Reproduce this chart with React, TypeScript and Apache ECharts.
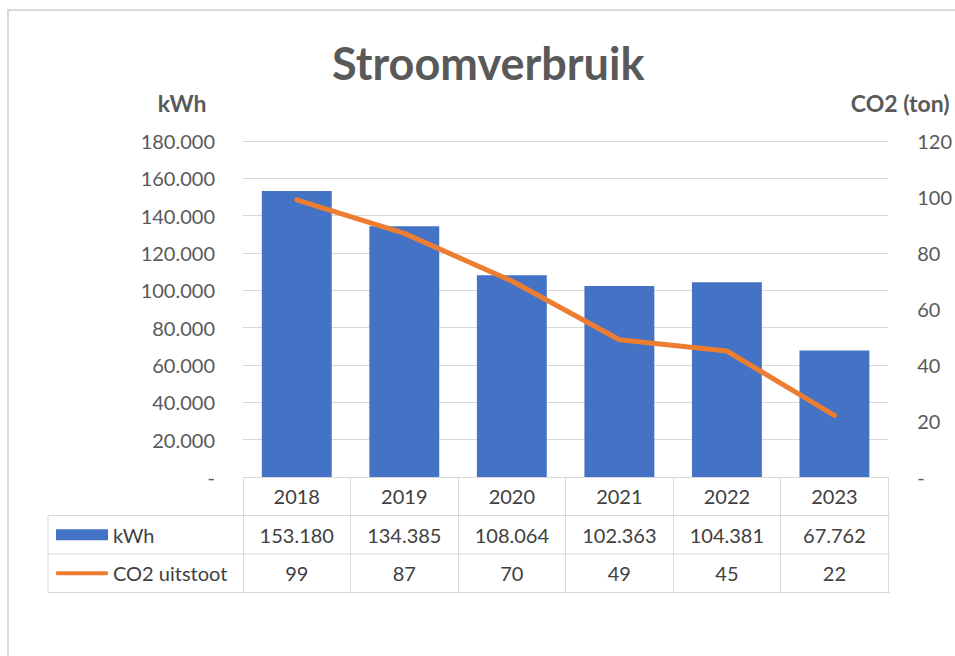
import React, { useEffect, useRef } from "react";
import * as echarts from "echarts";

const years = ["2018", "2019", "2020", "2021", "2022", "2023"];
const kwhValues = [153180, 134385, 108064, 102363, 104381, 67762];
const co2Values = [99, 87, 70, 49, 45, 22];
const seriesNames = ["kWh", "CO2 uitstoot"];

const FONT = "Lato";
const AXIS_COLOR = "#595959";
const TABLE_TEXT = "#404040";
const LINE_COLOR = "#d9d9d9";
const BLUE = "#4472C4";
const ORANGE = "#ED7D31";

const W = 955;
const H = 656;
const gridLeft = 243;
const gridRight = 65;
const gridTop = 141;
const axisY = 477;
const rowH = 38.5;
const tableLeft = 48;

const fmtThousands = (v: number) =>
  v === 0 ? "-" : String(v).replace(/\B(?=(\d{3})+(?!\d))/g, ".");

export default function App() {
  const ref = useRef<HTMLDivElement>(null);
  useEffect(() => {
    if (!ref.current) return;
    const chart = echarts.init(ref.current, undefined, { renderer: "svg" });
    const tableRight = W - gridRight;
    const r1 = axisY + rowH;
    const r2 = axisY + 2 * rowH;
    const r3 = axisY + 3 * rowH;
    const hLine = (y: number) => ({
      type: "line",
      shape: { x1: tableLeft, y1: y, x2: tableRight, y2: y },
      style: { stroke: LINE_COLOR, lineWidth: 1 },
      silent: true,
    });
    chart.setOption({
      animation: false,
      backgroundColor: "#ffffff",
      textStyle: { fontFamily: FONT },
      title: {
        text: "Stroomverbruik",
        left: 332,
        top: 35,
        padding: [5, 0, 5, 0],
        textStyle: { fontFamily: FONT, fontSize: 45, fontWeight: "bold", color: AXIS_COLOR },
      },
      grid: { left: gridLeft, right: gridRight, top: gridTop, bottom: H - axisY, containLabel: false },
      legend: [
        {
          data: [{ name: seriesNames[0], icon: "rect" }],
          left: 56,
          top: r1 + rowH / 2 - 12,
          padding: 0,
          itemWidth: 52,
          itemHeight: 11,
          selectedMode: false,
          textStyle: { fontFamily: FONT, fontSize: 20, color: TABLE_TEXT, lineHeight: 24 },
        },
        {
          data: [{ name: seriesNames[1], icon: "roundRect" }],
          left: 56,
          top: r2 + rowH / 2 - 12,
          padding: 0,
          itemWidth: 52,
          itemHeight: 4,
          selectedMode: false,
          textStyle: { fontFamily: FONT, fontSize: 20, color: TABLE_TEXT, lineHeight: 24 },
        },
      ],
      xAxis: {
        type: "category",
        data: years,
        boundaryGap: true,
        axisLine: { show: true, lineStyle: { color: LINE_COLOR, width: 1 } },
        axisTick: { show: true, length: 3 * rowH, lineStyle: { color: LINE_COLOR, width: 1 } },
        axisLabel: {
          margin: 0,
          interval: 0,
          formatter: (value: string, index: number) =>
            `{y|${value}}\n{a|${fmtThousands(kwhValues[index])}}\n{b|${co2Values[index]}}`,
          rich: {
            y: { fontFamily: FONT, fontSize: 20, color: TABLE_TEXT, lineHeight: rowH, height: rowH },
            a: { fontFamily: FONT, fontSize: 20, color: TABLE_TEXT, lineHeight: rowH, height: rowH },
            b: { fontFamily: FONT, fontSize: 20, color: TABLE_TEXT, lineHeight: rowH, height: rowH },
          },
        },
      },
      yAxis: [
        {
          type: "value",
          min: 0,
          max: 180000,
          interval: 20000,
          name: "kWh",
          nameLocation: "end",
          nameGap: 38,
          nameTextStyle: {
            fontFamily: FONT,
            fontSize: 23,
            fontWeight: "bold",
            color: AXIS_COLOR,
            align: "center",
            verticalAlign: "middle",
            padding: [0, 122, 0, 0],
          },
          axisLine: { show: false },
          axisTick: { show: false },
          splitLine: { show: true, lineStyle: { color: LINE_COLOR, width: 1 } },
          axisLabel: { margin: 28, fontFamily: FONT, fontSize: 20, color: AXIS_COLOR, formatter: (v: number) => fmtThousands(v) },
        },
        {
          type: "value",
          position: "right",
          min: 0,
          max: 120,
          interval: 20,
          name: "CO2 (ton)",
          nameLocation: "end",
          nameGap: 38,
          nameTextStyle: {
            fontFamily: FONT,
            fontSize: 23,
            fontWeight: "bold",
            color: AXIS_COLOR,
            align: "center",
            verticalAlign: "middle",
            padding: [0, 0, 0, 24],
          },
          axisLine: { show: false },
          axisTick: { show: false },
          splitLine: { show: false },
          axisLabel: { margin: 29, fontFamily: FONT, fontSize: 20, color: AXIS_COLOR, formatter: (v: number) => (v === 0 ? "-" : String(v)) },
        },
      ],
      series: [
        {
          name: seriesNames[0],
          type: "bar",
          yAxisIndex: 0,
          data: kwhValues,
          barWidth: "65%",
          itemStyle: { color: BLUE },
        },
        {
          name: seriesNames[1],
          type: "line",
          yAxisIndex: 1,
          data: co2Values,
          symbol: "none",
          lineStyle: { color: ORANGE, width: 5, cap: "round", join: "round" },
          itemStyle: { color: ORANGE },
        },
      ],
      graphic: [
        {
          type: "rect",
          shape: { x: 8, y: 10, width: 1200, height: 900 },
          style: { fill: "none", stroke: "#d9d9d9", lineWidth: 2 },
          silent: true,
          z: -10,
        },
        hLine(r1),
        hLine(r2),
        hLine(r3),
        {
          type: "line",
          shape: { x1: tableLeft, y1: r1, x2: tableLeft, y2: r3 },
          style: { stroke: LINE_COLOR, lineWidth: 1 },
          silent: true,
        },
      ],
    });
    return () => chart.dispose();
  }, []);
  return (
    <div
      ref={ref}
      style={{ position: "absolute", left: 0, top: 0, width: W, height: H }}
    />
  );
}
